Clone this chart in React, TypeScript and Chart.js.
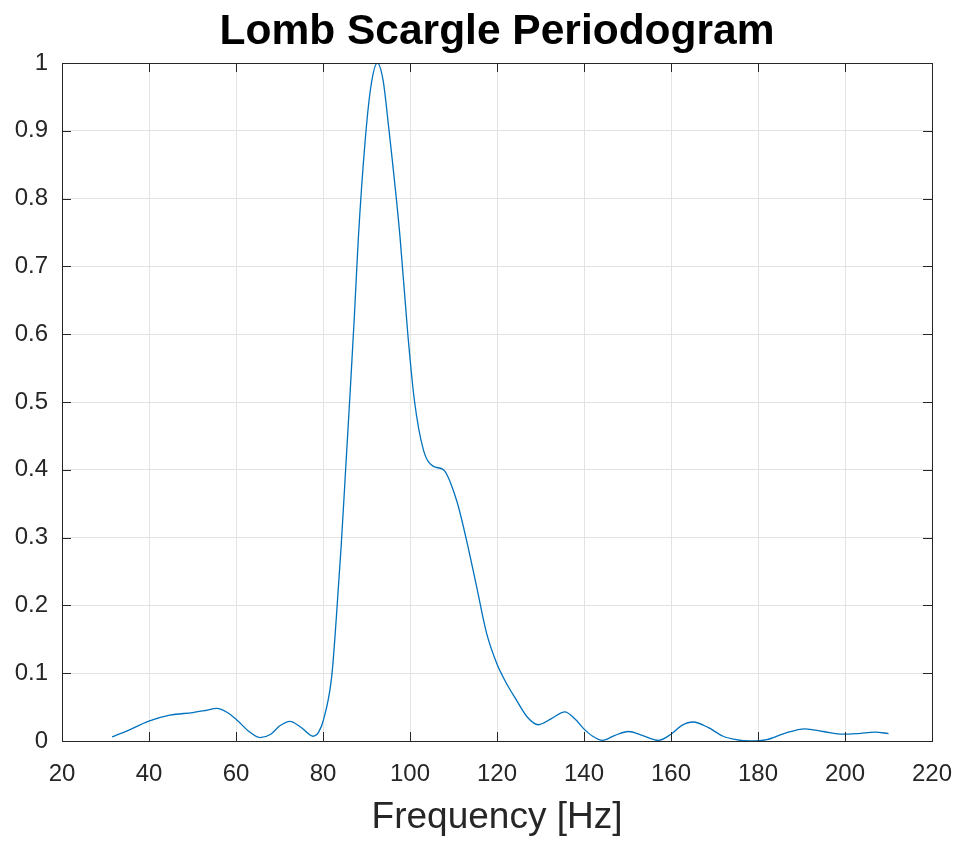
import React, { useEffect, useRef } from "react";
import { Chart, registerables } from "chart.js";

Chart.register(...registerables);

const freqHz = [
  31.5, 35, 39.8, 44.8, 50.1, 53, 55.6, 58, 60.2, 63, 65.5, 68, 70, 72.4, 75, 77.7, 79, 80.1,
  82, 83.1, 84.2, 85.2, 86.2, 87.2, 88.1, 89.7, 91, 92.5, 93.8, 95.0, 97.7, 99.5, 101.0, 103.1,
  105.4, 107.7, 110.7, 113.0, 115.3, 117.6, 119.9, 122, 124.5, 127, 129.5, 132.5, 135.6,
  138, 139.8, 142, 144.3, 147, 150.2, 153.5, 157.1, 160, 162.5, 165.1, 168.5, 172.0, 175,
  178.2, 182, 186, 190.8, 195, 199.6, 203, 206.9, 210,
];
const power = [
  0.006, 0.015, 0.029, 0.038, 0.042, 0.045, 0.048, 0.042, 0.031, 0.014, 0.005, 0.01, 0.022,
  0.029, 0.02, 0.007, 0.013, 0.031, 0.095, 0.185, 0.29, 0.4, 0.51, 0.625, 0.739, 0.886, 0.965,
  1.0, 0.975, 0.911, 0.744, 0.6, 0.503, 0.429, 0.405, 0.4, 0.355, 0.296, 0.228, 0.159, 0.115,
  0.087, 0.06, 0.035, 0.024, 0.033, 0.043, 0.032, 0.019, 0.007, 0.001, 0.008, 0.014, 0.008,
  0.001, 0.01, 0.023, 0.028, 0.02, 0.007, 0.002, 0.0, 0.002, 0.011, 0.018, 0.014, 0.01, 0.011,
  0.013, 0.011,
];
const xTicks = [20, 40, 60, 80, 100, 120, 140, 160, 180, 200, 220];
const yTicks = [0, 0.1, 0.2, 0.3, 0.4, 0.5, 0.6, 0.7, 0.8, 0.9, 1];
const titleText = "Lomb Scargle Periodogram";
const xLabel = "Frequency [Hz]";

const FONT = "'Liberation Sans', Arial, Helvetica, sans-serif";
const TEXT = "#262626";

const boxPlugin = {
  id: "matlabBox",
  afterDraw(chart: any) {
    const { ctx, chartArea } = chart;
    const { left, right, top, bottom } = chartArea;
    const xs = chart.scales.x;
    const ys = chart.scales.y;
    const tl = 9;
    ctx.save();
    ctx.strokeStyle = TEXT;
    ctx.lineWidth = 1;
    ctx.beginPath();
    xTicks.forEach((v) => {
      const px = Math.round(xs.getPixelForValue(v)) + 0.5;
      ctx.moveTo(px, bottom);
      ctx.lineTo(px, bottom - tl);
      ctx.moveTo(px, top);
      ctx.lineTo(px, top + tl);
    });
    yTicks.forEach((v) => {
      const py = Math.round(ys.getPixelForValue(v)) + 0.5;
      ctx.moveTo(left, py);
      ctx.lineTo(left + tl, py);
      ctx.moveTo(right, py);
      ctx.lineTo(right - tl, py);
    });
    ctx.stroke();
    ctx.strokeRect(Math.round(left) + 0.5, Math.round(top) + 0.5, Math.round(right - left), Math.round(bottom - top));
    // title centred over the axes
    ctx.fillStyle = "#000000";
    ctx.font = `bold 42.5px ${FONT}`;
    ctx.textAlign = "center";
    ctx.textBaseline = "middle";
    ctx.fillText(titleText, (left + right) / 2, 32);
    ctx.restore();
  },
};

export default function App() {
  const ref = useRef<HTMLCanvasElement>(null);
  useEffect(() => {
    if (!ref.current) return;
    const chart = new Chart(ref.current, {
      type: "line",
      data: {
        datasets: [
          {
            data: freqHz.map((f, i) => ({ x: f, y: power[i] })),
            borderColor: "#0072BD",
            borderWidth: 1.3,
            pointRadius: 0,
            fill: false,
            cubicInterpolationMode: "monotone",
          },
        ],
      },
      options: {
        responsive: false,
        animation: false,
        layout: { padding: { left: 0, right: 28, top: 63, bottom: 0 } },
        plugins: {
          legend: { display: false },
          tooltip: { enabled: false },
          title: { display: false },
        },
        scales: {
          x: {
            type: "linear",
            min: 20,
            max: 220,
            afterBuildTicks: (s: any) => {
              s.ticks = xTicks.map((v) => ({ value: v }));
            },
            afterFit: (s: any) => {
              s.height = 100;
              s.paddingLeft = 0;
              s.paddingRight = 0;
            },
            grid: { color: "#e3e3e3", drawTicks: false, lineWidth: 1 },
            border: { display: false },
            ticks: {
              color: TEXT,
              font: { family: FONT, size: 24 },
              padding: 19,
              maxRotation: 0,
              autoSkip: false,
            },
            title: {
              display: true,
              text: xLabel,
              color: TEXT,
              font: { family: FONT, size: 37, lineHeight: 1.2 },
              padding: { top: 0, bottom: 1 },
            },
          },
          y: {
            type: "linear",
            min: 0,
            max: 1,
            afterBuildTicks: (s: any) => {
              s.ticks = yTicks.map((v) => ({ value: v }));
            },
            afterFit: (s: any) => {
              s.width = 62;
              s.paddingTop = 0;
              s.paddingBottom = 0;
            },
            grid: { color: "#e3e3e3", drawTicks: false, lineWidth: 1 },
            border: { display: false },
            ticks: {
              color: TEXT,
              font: { family: FONT, size: 24 },
              padding: 14,
              autoSkip: false,
              callback: (v: any) => String(Number(Number(v).toFixed(1))),
            },
          },
        },
      },
      plugins: [boxPlugin],
    });
    return () => chart.destroy();
  }, []);
  return (
    <div style={{ position: "absolute", left: 0, top: 0, width: 960, height: 841, background: "#fff" }}>
      <canvas ref={ref} width={960} height={841} style={{ width: 960, height: 841, display: "block" }} />
    </div>
  );
}
